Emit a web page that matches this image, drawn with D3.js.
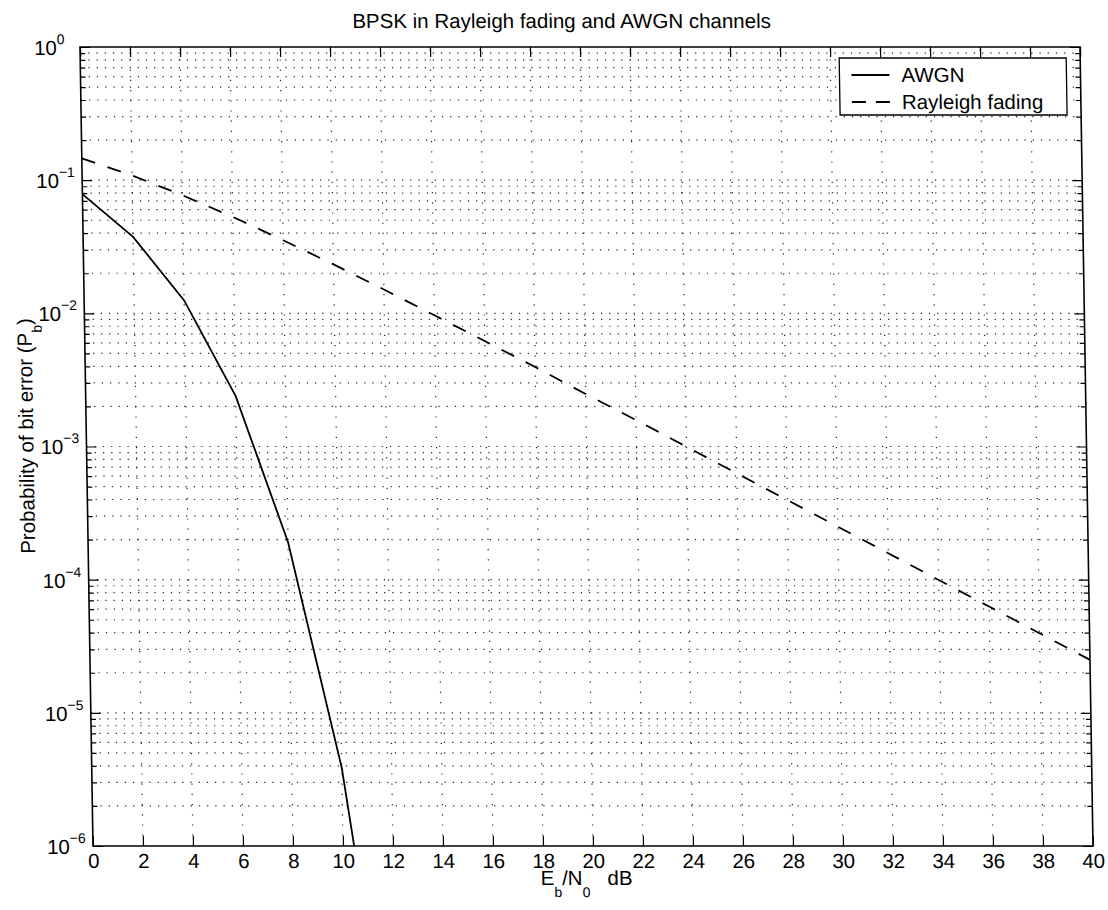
<!DOCTYPE html>
<html>
<head>
<meta charset="utf-8">
<title>BPSK in Rayleigh fading and AWGN channels</title>
<script src="https://cdn.jsdelivr.net/npm/d3@7"></script>
<style>
  body { margin: 0; background: #fff; }
  text { font-family: "Liberation Sans", Arial, Helvetica, sans-serif; fill: #000; }
</style>
</head>
<body>
<script>
// Eb/N0 (dB) and bit error probability
var ebn0Awgn = [0, 2, 4, 6, 8, 10, 12];
var pbAwgn = [7.86e-2, 3.75e-2, 1.25e-2, 2.39e-3, 1.91e-4, 3.87e-6, 9.0e-9];

var ebn0Rayleigh = [0, 2, 4, 6, 8, 10, 12, 14, 16, 18, 20, 22, 24, 26, 28, 30, 32, 34, 36, 38, 40];
var pbRayleigh = [1.46e-1, 1.085e-1, 7.71e-2, 5.30e-2, 3.54e-2, 2.33e-2, 1.51e-2, 9.67e-3, 6.19e-3,
  3.95e-3, 2.48e-3, 1.58e-3, 9.95e-4, 6.28e-4, 3.96e-4, 2.50e-4, 1.58e-4, 9.95e-5, 6.28e-5,
  3.96e-5, 2.50e-5];

var xTicks = [0, 2, 4, 6, 8, 10, 12, 14, 16, 18, 20, 22, 24, 26, 28, 30, 32, 34, 36, 38, 40];
var yExponents = [0, -1, -2, -3, -4, -5, -6];
var seriesNames = ['AWGN', 'Rayleigh fading'];

var W = 1108, H = 910;
var pLeft = 93, pRight = 1093, pTop = 47, pBottom = 846;

var x = d3.scaleLinear().domain([0, 40]).range([pLeft, pRight]);
var y = d3.scaleLog().domain([1e-6, 1]).range([pBottom, pTop]);

var svg = d3.select('body').append('svg')
  .attr('width', W)
  .attr('height', H);

// the scanned figure leans slightly: vertical lines are sheared
var k = 13 / 799;
var root = svg.append('g')
  .attr('transform', 'translate(' + (-k * pBottom) + ',0) skewX(' + (Math.atan(k) * 180 / Math.PI) + ')');

root.append('rect')
  .attr('x', pLeft).attr('y', pTop)
  .attr('width', pRight - pLeft).attr('height', pBottom - pTop)
  .attr('fill', '#fff');

// grid
var yMinor = [];
yExponents.forEach(function(e) {
  if (e === 0) return;
  for (var m = 1; m <= 9; m++) yMinor.push(m * Math.pow(10, e));
});
var yGrid = yMinor.filter(function(v) { return v > 1.0001e-6; });

var grid = root.append('g').attr('stroke', '#222').attr('stroke-width', 1.2);
grid.selectAll('line.h').data(yGrid).enter().append('line')
  .attr('class', 'h')
  .attr('x1', pLeft).attr('x2', pRight)
  .attr('y1', function(d) { return y(d); })
  .attr('y2', function(d) { return y(d); })
  .attr('stroke-dasharray', '1.2,7');
grid.selectAll('line.v').data(xTicks.slice(1, -1)).enter().append('line')
  .attr('class', 'v')
  .attr('y1', pBottom).attr('y2', pTop)
  .attr('x1', function(d) { return x(d); })
  .attr('x2', function(d) { return x(d); })
  .attr('stroke-dasharray', '1.2,9');

// curves
root.append('clipPath').attr('id', 'plotclip')
  .append('rect')
  .attr('x', pLeft).attr('y', pTop)
  .attr('width', pRight - pLeft).attr('height', pBottom - pTop);

var line = d3.line()
  .x(function(d) { return x(d[0]); })
  .y(function(d) { return y(d[1]); });

var curves = root.append('g').attr('clip-path', 'url(#plotclip)');
curves.append('path')
  .datum(d3.zip(ebn0Awgn, pbAwgn))
  .attr('d', line)
  .attr('fill', 'none')
  .attr('stroke', '#000')
  .attr('stroke-width', 1.8);
curves.append('path')
  .datum(d3.zip(ebn0Rayleigh, pbRayleigh))
  .attr('d', line)
  .attr('fill', 'none')
  .attr('stroke', '#000')
  .attr('stroke-width', 1.8)
  .attr('stroke-dasharray', '14,13');

// ticks on all four sides, pointing inward
function noDomain(g) { g.select('.domain').remove(); }

var xAxis = root.append('g')
  .attr('transform', 'translate(0,' + pBottom + ')')
  .call(d3.axisBottom(x).tickValues(xTicks).tickSize(-10).tickPadding(7.4).tickFormat(d3.format('d')))
  .call(noDomain);
xAxis.selectAll('text')
  .attr('font-size', 20.5)
  .attr('font-family', '"Liberation Sans", Arial, sans-serif');
xAxis.selectAll('line').attr('stroke-width', 1.2);

root.append('g')
  .attr('transform', 'translate(0,' + pTop + ')')
  .call(d3.axisTop(x).tickValues(xTicks).tickSize(-10).tickFormat(''))
  .call(noDomain)
  .selectAll('line').attr('stroke-width', 1.2);

var yMajor = yExponents.map(function(e) { return Math.pow(10, e); });
var yMinorTicks = yGrid.filter(function(v) { return yMajor.indexOf(v) < 0; });
[[d3.axisLeft, pLeft], [d3.axisRight, pRight]].forEach(function(a) {
  root.append('g')
    .attr('transform', 'translate(' + a[1] + ',0)')
    .call(a[0](y).tickValues(yMajor).tickSize(-10).tickFormat(''))
    .call(noDomain)
    .selectAll('line').attr('stroke-width', 1.2);
  root.append('g')
    .attr('transform', 'translate(' + a[1] + ',0)')
    .call(a[0](y).tickValues(yMinorTicks).tickSize(-5).tickFormat(''))
    .call(noDomain)
    .selectAll('line').attr('stroke-width', 1.2);
});

// y tick labels as 10 with a superscript exponent
var yLab = root.append('g').selectAll('text').data(yExponents).enter().append('text')
  .attr('x', 47)
  .attr('y', function(e) { return y(Math.pow(10, e)) + 8; })
  .attr('font-size', 20.5);
yLab.append('tspan').text('10');
yLab.append('tspan')
  .attr('font-size', 14)
  .attr('dy', -11)
  .text(function(e) { return e < 0 ? '\u2212' + (-e) : String(e); });

// axes box
root.append('rect')
  .attr('x', pLeft).attr('y', pTop)
  .attr('width', pRight - pLeft).attr('height', pBottom - pTop)
  .attr('fill', 'none')
  .attr('stroke', '#000')
  .attr('stroke-width', 1.6);

// legend
var legend = root.append('g');
legend.append('rect')
  .attr('x', 852).attr('y', 58)
  .attr('width', 227).attr('height', 57)
  .attr('fill', '#fff')
  .attr('stroke', '#000')
  .attr('stroke-width', 1.3);
seriesNames.forEach(function(name, i) {
  var yy = 75 + i * 27;
  legend.append('line')
    .attr('x1', 864).attr('x2', 902)
    .attr('y1', yy).attr('y2', yy)
    .attr('stroke', '#000')
    .attr('stroke-width', 1.8)
    .attr('stroke-dasharray', i === 1 ? '14,10' : null);
  legend.append('text')
    .attr('x', 914).attr('y', yy + 7.5)
    .attr('font-size', 20.5)
    .text(name);
});

// title and axis labels
root.append('text')
  .attr('x', 575).attr('y', 28)
  .attr('text-anchor', 'middle')
  .attr('font-size', 20.5)
  .text('BPSK in Rayleigh fading and AWGN channels');

var xl = root.append('text')
  .attr('x', 586).attr('y', 885)
  .attr('text-anchor', 'middle')
  .attr('font-size', 20.5);
xl.append('tspan').text('E');
xl.append('tspan').attr('font-size', 14).attr('dy', 12).text('b');
xl.append('tspan').attr('dy', -12).text('/N');
xl.append('tspan').attr('font-size', 14).attr('dy', 12).text('0');
xl.append('tspan').attr('dy', -12).text('\u00a0\u00a0\u00a0dB');

var yl = root.append('text')
  .attr('transform', 'translate(40,436) rotate(-90)')
  .attr('text-anchor', 'middle')
  .attr('font-size', 20.5);
yl.append('tspan').text('Probability of bit error (P');
yl.append('tspan').attr('font-size', 14).attr('dy', 10).text('b');
yl.append('tspan').attr('dy', -10).text(')');
</script>
</body>
</html>
